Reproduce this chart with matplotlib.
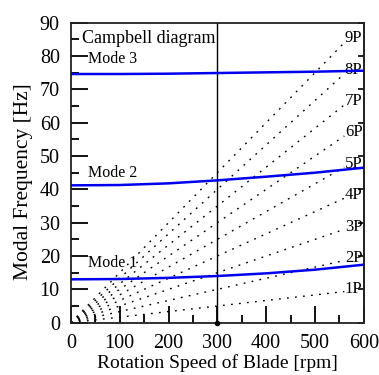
import numpy as np
import matplotlib.pyplot as plt

plt.rcParams['font.family'] = ['Liberation Serif', 'DejaVu Serif']

# ----------------------------
# Datos
# ----------------------------
rpm = [0, 100, 200, 300, 400, 500, 600]
mode1 = [13.0, 13.1, 13.45, 14.0, 14.8, 15.9, 17.4]
mode2 = [41.2, 41.3, 41.8, 42.7, 43.8, 45.0, 46.5]
mode3 = [74.6, 74.6, 74.7, 74.9, 75.1, 75.3, 75.6]
mode_labels = ['Mode 1', 'Mode 2', 'Mode 3']
mode_label_y = [18.0, 45.0, 79.0]

harmonics = [1, 2, 3, 4, 5, 6, 7, 8, 9]
harm_rpm_end = 560
operating_rpm = 300

fig = plt.figure(figsize=(3.79, 3.75), dpi=100)
ax = fig.add_axes([0.187, 0.1395, 0.773, 0.80])

# lineas de excitacion nP
for n in harmonics:
    xs = np.array([0, harm_rpm_end])
    ax.plot(xs, n * xs / 60.0, color='black', lw=1.0,
            linestyle=(0, (1.3, 4.5)), zorder=1)
    ax.text(561, n * 565 / 60.0 + 0.6, f'{n}P', ha='left', va='center',
            fontsize=12)

# modos
for vals in (mode1, mode2, mode3):
    ax.plot(rpm, vals, color='#0000ee', lw=1.8, zorder=3)
for lab, y in zip(mode_labels, mode_label_y):
    ax.text(36, y, lab, ha='left', va='center', fontsize=11.5)

ax.text(22, 85.3, 'Campbell diagram', ha='left', va='center', fontsize=13)

# velocidad de operacion
ax.axvline(operating_rpm, color='black', lw=1.0, zorder=2)
ax.plot([operating_rpm], [0], 'o', color='black', ms=3, clip_on=False, zorder=4)

ax.set_xlim(0, 600)
ax.set_ylim(0, 90)
ax.set_xticks(np.arange(0, 601, 100))
ax.set_xticks(np.arange(50, 600, 100), minor=True)
ax.set_yticks(np.arange(0, 91, 10))
ax.set_yticks(np.arange(5, 90, 10), minor=True)
ax.tick_params(axis='both', which='major', direction='in', length=12,
               width=1.3, labelsize=14.5, pad=8)
ax.tick_params(axis='both', which='minor', direction='in', length=6, width=1.3)

# ticks cortos a la derecha
sec = ax.secondary_yaxis('right')
sec.set_yticks(np.arange(0, 91, 10))
sec.tick_params(direction='in', length=4, width=1.2, labelright=False)
sec.spines['right'].set_linewidth(1.3)
sec.spines['right'].set_color('#222222')

for s in ax.spines.values():
    s.set_linewidth(1.3)
    s.set_color('#222222')

ax.set_xlabel('Rotation Speed of Blade [rpm]', fontsize=14, labelpad=1)
ax.set_ylabel('Modal Frequency [Hz]', fontsize=15.5)
ax.yaxis.set_label_coords(-0.128, 0.47)

fig.savefig('out.png', dpi=100)
